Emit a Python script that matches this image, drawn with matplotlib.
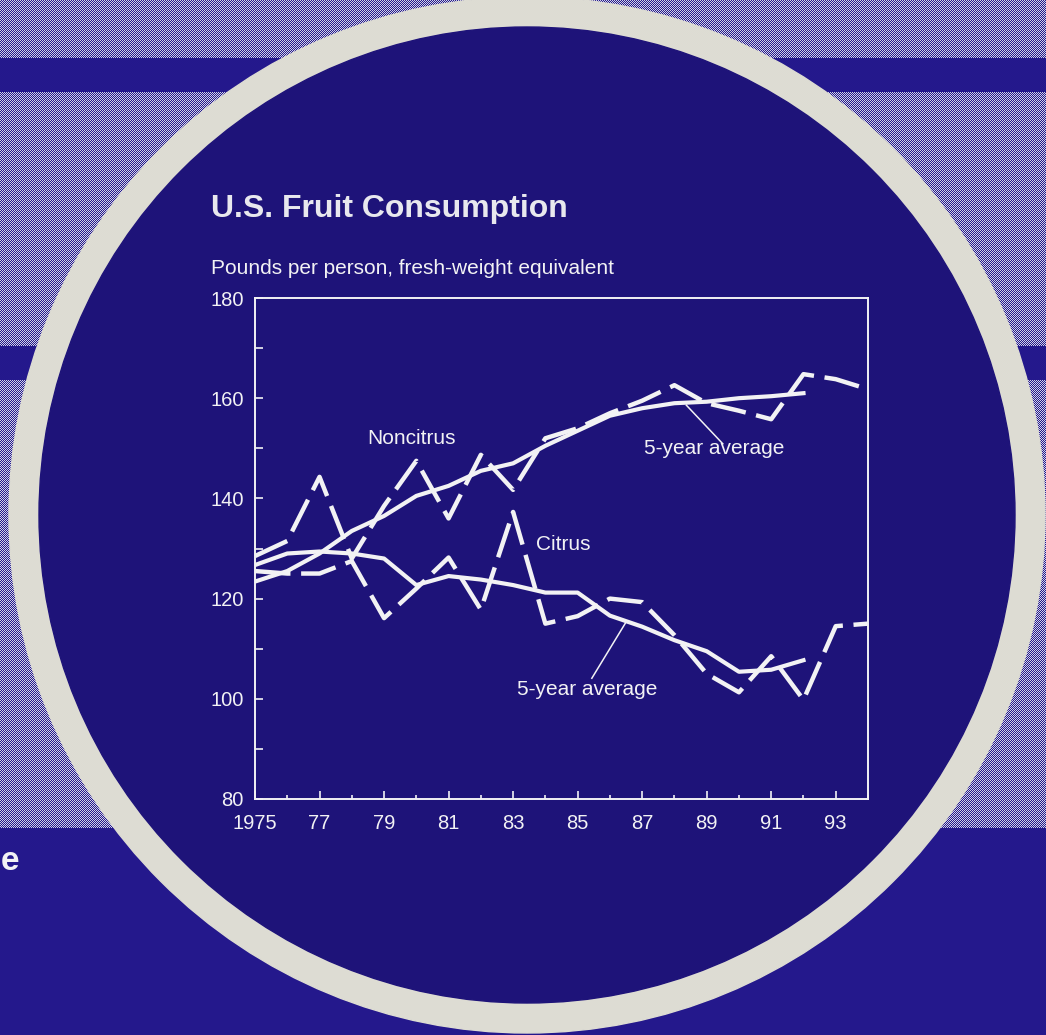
import numpy as np
import matplotlib.pyplot as plt
from matplotlib.patches import Circle
from matplotlib.colors import to_rgb

plt.rcParams['font.family'] = ['Liberation Sans', 'DejaVu Sans']

# data (pounds per person)
years = list(range(1975, 1995))
noncitrus = [128.5, 131.5, 144.3, 128.0, 138.5, 147.5, 136.0, 148.7, 141.7, 152.0,
             154.0, 157.0, 159.5, 162.6, 159.0, 157.5, 155.8, 164.8, 163.8, 161.8]
citrus = [125.5, 125.0, 125.0, 127.5, 116.1, 122.0, 128.2, 117.8, 137.3, 115.0,
          116.5, 120.0, 119.3, 112.7, 105.0, 101.3, 108.5, 99.8, 114.5, 115.0]
avg_years = list(range(1975, 1993))
noncitrus_avg = [123.4, 125.5, 129.0, 133.5, 136.5, 140.5, 142.5, 145.5, 147.0, 150.5,
                 153.5, 156.5, 158.0, 159.0, 159.3, 160.0, 160.4, 161.0]
citrus_avg = [126.7, 129.0, 129.4, 129.0, 128.0, 122.7, 124.5, 123.8, 122.7, 121.2,
              121.2, 116.6, 114.4, 111.7, 109.5, 105.4, 105.8, 107.7]
ytick_vals = [80, 100, 120, 140, 160, 180]
xtick_years = [1975, 1977, 1979, 1981, 1983, 1985, 1987, 1989, 1991, 1993]
xtick_labels = ['1975', '77', '79', '81', '83', '85', '87', '89', '91', '93']

W, H = 1046, 1035
navy = '#1e1379'
band = '#24188c'
dots = '#d2d2e6'
ring = '#dddcd3'
white = '#f2f2f4'

fig = plt.figure(figsize=(W / 100, H / 100), dpi=100)

# page background: halftone screen with solid bands, put down pixel for pixel
yy, xx = np.mgrid[0:H, 0:W]
img = np.where(((xx + yy) % 2 == 0)[..., None],
               np.array(to_rgb(dots)), np.array(to_rgb(band)))
img[58:92] = to_rgb(band)
img[346:380] = to_rgb(band)
img[828:] = to_rgb(band)
fig.figimage(img, xo=0, yo=0, origin='upper', zorder=0)

bg = fig.add_axes([0, 0, 1, 1], zorder=1)
bg.patch.set_visible(False)
bg.add_patch(Circle((527, 515), 518, color=ring))
bg.add_patch(Circle((527, 515), 488, color=navy))
bg.set_xlim(0, W)
bg.set_ylim(H, 0)
bg.axis('off')
bg.text(1, 862, 'e', color=white, fontsize=24, fontweight='bold', va='center', ha='left')

fig.text(211 / W, 1 - 217 / H, 'U.S. Fruit Consumption', color='#e8e8ee',
         fontsize=23, fontweight='bold', va='baseline', ha='left', zorder=5)
fig.text(211 / W, 1 - 274 / H, 'Pounds per person, fresh-weight equivalent',
         color=white, fontsize=15, va='baseline', ha='left', zorder=5)

ax = fig.add_axes([255 / W, 1 - 799 / H, (868 - 255) / W, (799 - 298) / H], zorder=2)
ax.set_facecolor('none')
dash = (0, (8, 2.4))
ax.plot(years, noncitrus, color=white, lw=3.2, ls=dash, dash_capstyle='butt')
ax.plot(years, citrus, color=white, lw=3.2, ls=dash, dash_capstyle='butt')
ax.plot(avg_years, noncitrus_avg, color=white, lw=3.0, solid_joinstyle='round')
ax.plot(avg_years, citrus_avg, color=white, lw=3.0, solid_joinstyle='round')

ax.text(1979.85, 152.0, 'Noncitrus', color=white, fontsize=15, ha='center', va='center')
ax.text(1984.55, 130.7, 'Citrus', color=white, fontsize=15, ha='center', va='center')
ax.text(1989.23, 150.0, '5-year average', color=white, fontsize=15, ha='center', va='center')
ax.text(1985.3, 101.8, '5-year average', color=white, fontsize=15, ha='center', va='center')
ax.plot([1988.37, 1989.5], [158.6, 150.9], color=white, lw=1.1)
ax.plot([1986.48, 1985.44], [115.1, 104.1], color=white, lw=1.1)

ax.set_xlim(1975, 1994)
ax.set_ylim(80, 180)
ax.set_xticks(xtick_years)
ax.set_xticklabels(xtick_labels)
ax.set_xticks(range(1976, 1995, 2), minor=True)
ax.set_yticks(ytick_vals)
ax.set_yticks(range(90, 180, 20), minor=True)
for s in ax.spines.values():
    s.set_color(white)
    s.set_linewidth(1.4)
ax.tick_params(axis='both', which='both', direction='in', colors=white, labelsize=14.5, width=1.2)
ax.tick_params(axis='x', which='major', length=6, pad=11)
ax.tick_params(axis='x', which='minor', length=3)
ax.tick_params(axis='y', which='both', length=6, pad=8)

fig.savefig('out.png', dpi=100, facecolor=navy)
